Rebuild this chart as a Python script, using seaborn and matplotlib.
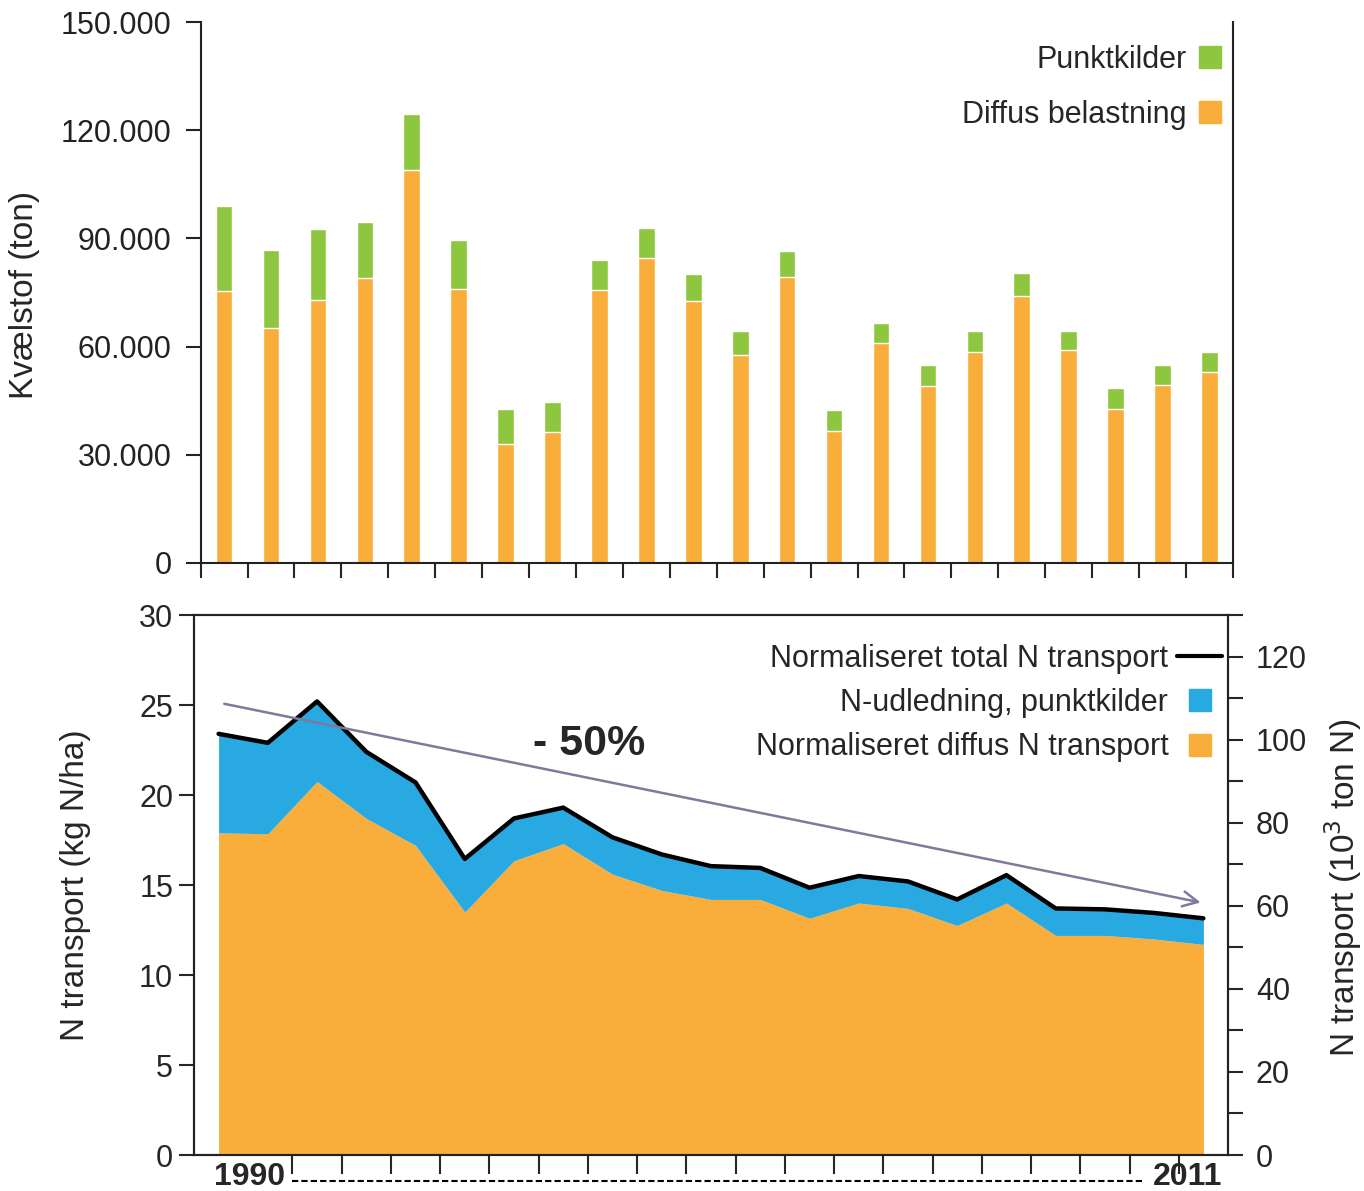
import matplotlib
matplotlib.use("Agg")
import matplotlib.pyplot as plt
from matplotlib.lines import Line2D
from matplotlib.patches import Patch
from matplotlib.ticker import FuncFormatter, MultipleLocator
import seaborn as sns
import pandas as pd
import numpy as np

# data: top panel (ton N), 1990-2011
years = list(range(1990, 2012))
diffus = [75300, 65200, 73000, 78900, 109100, 76100, 32900, 36200, 75600, 84700, 72600,
          57600, 79200, 36600, 60900, 49100, 58500, 74000, 59000, 42600, 49300, 53000]
total = [98900, 86700, 92700, 94500, 124600, 89500, 42800, 44700, 84100, 93000, 80000,
         64400, 86500, 42400, 66600, 54800, 64400, 80400, 64400, 48400, 54800, 58400]

# data: bottom panel (kg N/ha)
n_total = [23.4, 22.9, 25.2, 22.4, 20.7, 16.45, 18.7, 19.3, 17.65, 16.7, 16.05,
           15.95, 14.85, 15.5, 15.2, 14.2, 15.55, 13.7, 13.65, 13.45, 13.15]
n_diffus = [17.9, 17.85, 20.75, 18.7, 17.2, 13.5, 16.35, 17.3, 15.6, 14.7, 14.2,
            14.2, 13.15, 14.0, 13.7, 12.75, 14.0, 12.2, 12.2, 12.0, 11.7]
first_year, last_year = "1990", "2011"

ORANGE = "#F9AD3A"
GREEN = "#8DC63F"
BLUE = "#28A9E1"
ARROW = "#7c7b9b"

sns.set_theme(style="ticks")
plt.rcParams["font.family"] = ["Liberation Sans", "DejaVu Sans"]
plt.rcParams["axes.linewidth"] = 1.5
plt.rcParams["xtick.major.width"] = 1.5
plt.rcParams["ytick.major.width"] = 1.5
plt.rcParams["ytick.minor.width"] = 1.5

fig = plt.figure(figsize=(13.64, 11.91), dpi=100)
ax1 = fig.add_axes([0.1471, 0.5273, 0.7568, 0.4542])
ax2 = fig.add_axes([0.1422, 0.0302, 0.7581, 0.4534])

# --- top: stacked bars
df = pd.DataFrame({"year": [str(y) for y in years], "diffus": diffus, "total": total})
sns.barplot(data=df, x="year", y="total", color=GREEN, saturation=1, width=0.355, ax=ax1)
sns.barplot(data=df, x="year", y="diffus", color=ORANGE, saturation=1, width=0.355, ax=ax1)
ax1.set_xlim(-0.5, len(years) - 0.5)
ax1.set_ylim(0, 150000)
ax1.set_yticks(np.arange(0, 150001, 30000))
ax1.yaxis.set_major_formatter(FuncFormatter(lambda v, p: f"{v:,.0f}".replace(",", ".")))
ax1.set_xticks(np.arange(-0.5, len(years), 1))
ax1.set_xticklabels([])
ax1.set_xlabel("")
ax1.set_ylabel("")
ax1.tick_params(axis="y", labelsize=22, length=11, pad=10, colors="#222222")
ax1.tick_params(axis="x", length=11)
ax1.spines["top"].set_visible(False)
for s in ax1.spines.values():
    s.set_color("#222222")

ax1.legend([Patch(color=GREEN), Patch(color=ORANGE)],
           ["Punktkilder", "Diffus belastning"],
           loc="upper right", bbox_to_anchor=(0.988, 0.958), frameon=False,
           markerfirst=False, fontsize=22, handlelength=0.7, handleheight=0.7,
           handletextpad=0.4, labelspacing=0.82, borderpad=0, borderaxespad=0)

fig.text(0.0183, 0.752, "Kvælstof (ton)", rotation=90, ha="center", va="center", fontsize=24)

# --- bottom: areas + total line
idx = np.arange(len(n_total))
ax2.fill_between(idx, 0, n_diffus, color=ORANGE, linewidth=0)
ax2.fill_between(idx, n_diffus, n_total, color=BLUE, linewidth=0)
sns.lineplot(x=idx, y=n_total, color="black", linewidth=3.2, ax=ax2)
ax2.set_xlim(-0.5, len(n_total) - 0.5)
ax2.set_ylim(0, 30)
ax2.set_yticks(np.arange(0, 31, 5))
ax2.set_xticks(np.arange(1.5, len(n_total) - 1, 1))
ax2.set_xticklabels([])
ax2.tick_params(axis="y", labelsize=22, length=11, pad=4)
ax2.tick_params(axis="x", length=14)

ax3 = ax2.twinx()
ax3.set_ylim(0, 130)
ax3.set_yticks(np.arange(0, 121, 20))
ax3.yaxis.set_minor_locator(MultipleLocator(10))
ax3.tick_params(axis="y", which="major", labelsize=22, length=11, pad=9)
ax3.tick_params(axis="y", which="minor", length=11)
for a in (ax2, ax3):
    for s in a.spines.values():
        s.set_color("#222222")

ax2.annotate("", xy=(20.0, 14.0), xytext=(0.06, 25.1),
             arrowprops=dict(arrowstyle="->,head_length=0.9,head_width=0.45",
                             color=ARROW, lw=1.8))
ax2.text(7.53, 22.85, "- 50%", fontsize=31, fontweight="bold", ha="center", va="center")

ax3.legend([Line2D([], [], color="black", lw=3),
            Line2D([], [], marker="s", ls="none", color=BLUE, markersize=16),
            Line2D([], [], marker="s", ls="none", color=ORANGE, markersize=16)],
           ["Normaliseret total N transport", "N-udledning, punktkilder",
            "Normaliseret diffus N transport"],
           loc="upper right", bbox_to_anchor=(0.994, 0.947), frameon=False,
           markerfirst=False, fontsize=22, handlelength=1.45, handletextpad=0.3,
           labelspacing=0.47, borderpad=0, borderaxespad=0)

fig.text(0.055, 0.257, "N transport (kg N/ha)", rotation=90, ha="center", va="center", fontsize=24)
fig.text(0.9846, 0.255, "N transport (10$^3$ ton N)", rotation=90, ha="center", va="center",
         fontsize=24)

# year labels under the bottom panel
fig.text(250 / 1364, 1 - 1162 / 1191, first_year, ha="center", va="top", fontsize=23,
         fontweight="bold")
fig.text(1188 / 1364, 1 - 1162 / 1191, last_year, ha="center", va="top", fontsize=23,
         fontweight="bold")
fig.add_artist(Line2D([292 / 1364, 1142 / 1364], [1 - 1181 / 1191] * 2, color="black",
                      lw=1.5, linestyle=(0, (3, 1.5)), transform=fig.transFigure))

fig.savefig("out.png", dpi=100)
